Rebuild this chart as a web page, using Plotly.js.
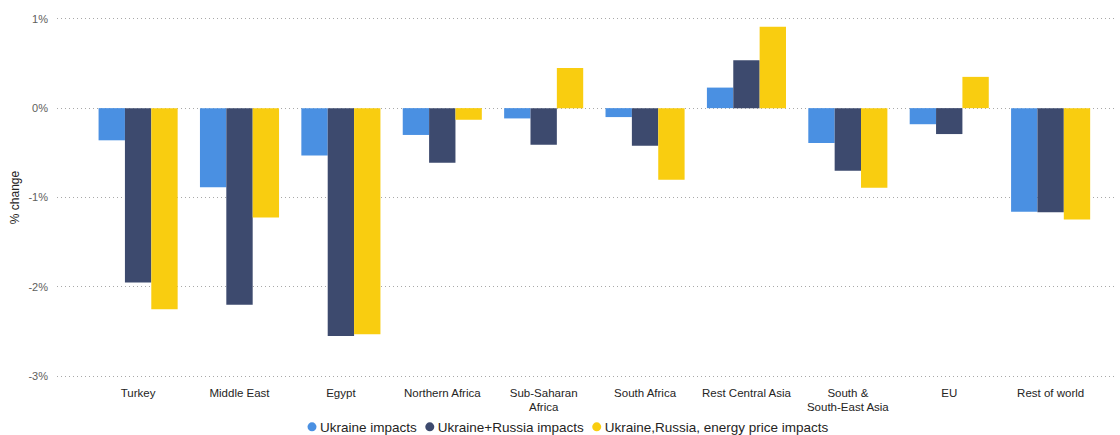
<!DOCTYPE html>
<html>
<head>
<meta charset="utf-8">
<script src="https://cdn.plot.ly/plotly-3.0.1.min.js"></script>
<style>html,body{margin:0;padding:0;background:#fff;}#chart{width:1120px;height:435px;}</style>
</head>
<body>
<div id="chart"></div>
<script>
const categories = ["Turkey", "Middle East", "Egypt", "Northern Africa", "Sub-Saharan<br>Africa", "South Africa", "Rest Central Asia", "South &<br>South-East Asia", "EU", "Rest of world"];
const ukraine = [-0.36, -0.885, -0.53, -0.30, -0.115, -0.10, 0.23, -0.39, -0.18, -1.16];
const ukraineRussia = [-1.95, -2.20, -2.55, -0.61, -0.41, -0.42, 0.535, -0.70, -0.29, -1.165];
const energy = [-2.25, -1.225, -2.53, -0.13, 0.45, -0.80, 0.91, -0.89, 0.35, -1.245];
const seriesNames = ["Ukraine impacts", "Ukraine+Russia impacts", "Ukraine,Russia, energy price impacts"];
const yTicks = [-3, -2, -1, 0, 1];
const yTickText = ["-3%", "-2%", "-1%", "0%", "1%"];

const colors = ["#4A90E2", "#3D4A6E", "#F9CD10"];
const xIdx = categories.map((c, i) => i);
const series = [ukraine, ukraineRussia, energy];
const traces = [];
series.forEach((vals, k) => {
  traces.push({
    type: "bar",
    x: xIdx,
    y: vals,
    name: seriesNames[k],
    marker: {color: colors[k]},
    showlegend: false,
    hoverinfo: "skip"
  });
});
// legend entries (circle symbols)
series.forEach((vals, k) => {
  traces.push({
    type: "scatter",
    mode: "markers",
    x: [null],
    y: [null],
    name: seriesNames[k],
    marker: {color: colors[k], size: 9, symbol: "circle"},
    showlegend: true,
    hoverinfo: "skip"
  });
});

const layout = {
  width: 1120,
  height: 435,
  margin: {l: 57, r: 5, t: 17, b: 57, autoexpand: false},
  paper_bgcolor: "#fff",
  plot_bgcolor: "#fff",
  barmode: "group",
  bargap: 0.22,
  bargroupgap: 0,
  font: {family: "Liberation Sans, Arial, sans-serif", color: "#252423"},
  xaxis: {
    range: [-0.8, 9.635],
    tickmode: "array",
    tickvals: xIdx,
    ticktext: categories,
    showgrid: false,
    zeroline: false,
    showline: false,
    ticks: "",
    tickfont: {size: 11.5, color: "#252423"},
    ticklabelstandoff: 6
  },
  yaxis: {
    range: [-3.02, 1.02],
    tickmode: "array",
    tickvals: yTicks,
    ticktext: yTickText,
    showgrid: true,
    gridcolor: "#A8A8A8",
    griddash: "1px,3px",
    gridwidth: 1,
    zeroline: false,
    showline: false,
    ticks: "",
    ticklabelstandoff: 8,
    tickfont: {size: 11, color: "#605E5C"},
    title: {text: "% change", font: {size: 12, color: "#252423"}, standoff: 6}
  },
  legend: {
    orientation: "h",
    x: 0.49,
    xanchor: "center",
    y: -0.093,
    yanchor: "top",
    font: {size: 13.5, color: "#252423"},
    itemwidth: 30,
    traceorder: "normal",
    tracegroupgap: 0
  },
  showlegend: true
};

function tightenLegend() {
  const legend = document.querySelector(".legend");
  if (!legend) return;
  const groups = Array.from(legend.querySelectorAll(".traces"));
  const symbolX = 20, textOffset = 8, afterText = 13;
  let x = 0;
  const widths = [];
  groups.forEach(g => {
    const t = g.querySelector("text.legendtext");
    t.setAttribute("x", symbolX + textOffset);
    widths.push(t.getComputedTextLength());
  });
  groups.forEach((g, i) => {
    const tr = g.getAttribute("transform") || "";
    const m = tr.match(/translate\(([-\d.]+)[ ,]+([-\d.]+)\)/);
    const y = m ? parseFloat(m[2]) : 0;
    g.setAttribute("transform", "translate(" + x + "," + y + ")");
    x += textOffset + widths[i] + afterText;
  });
  const total = x;
  const targetFirstSymbol = 312;
  const ltr = legend.getAttribute("transform") || "";
  const lm = ltr.match(/translate\(([-\d.]+)[ ,]+([-\d.]+)\)/);
  const ly = lm ? parseFloat(lm[2]) : 0;
  legend.setAttribute("transform", "translate(" + (targetFirstSymbol - symbolX) + "," + ly + ")");
  const bg = legend.querySelector("rect.bg");
  if (bg) bg.setAttribute("width", total + 30);
}

Plotly.newPlot("chart", traces, layout, {displayModeBar: false, staticPlot: true}).then(tightenLegend);
</script>
</body>
</html>
